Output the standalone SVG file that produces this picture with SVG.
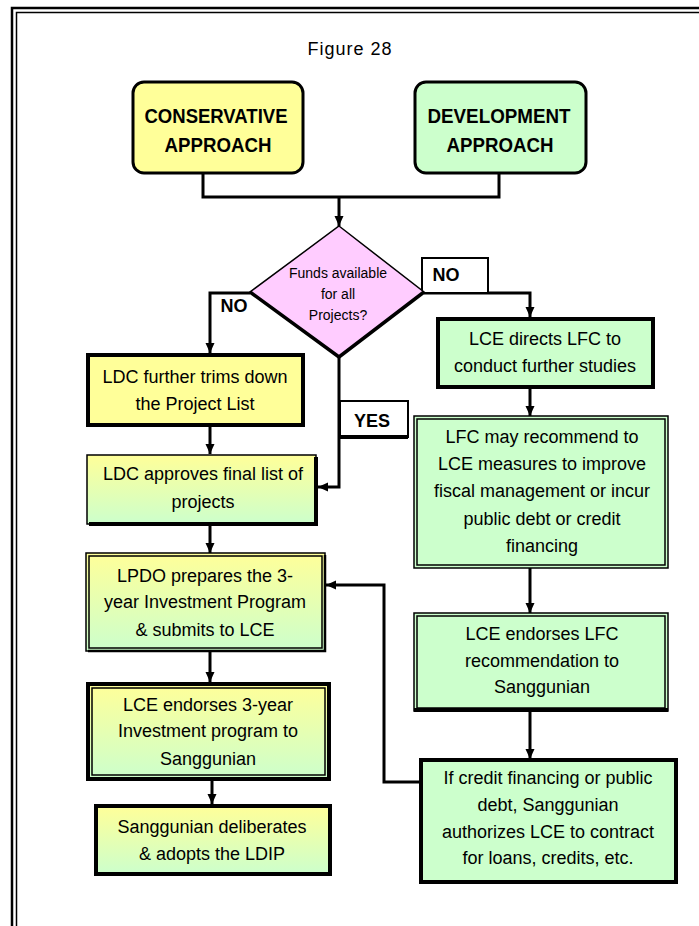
<svg xmlns="http://www.w3.org/2000/svg" width="699" height="926" viewBox="0 0 699 926">
  <style>
    .t { font-family: "Liberation Sans", Arial, sans-serif; font-size: 18px; fill: #000; text-anchor: middle; }
    .b { font-weight: bold; }
    .hd { font-size: 20px; }
    .sm { font-size: 14px; }
    .wire { fill: none; stroke: #000; stroke-width: 3; }
    .thick { stroke: #000; stroke-width: 4; }
    .thin { fill: none; stroke: #000; stroke-width: 1.5; }
  </style>
  <defs>
    <linearGradient id="yg" x1="0" y1="0" x2="0" y2="1">
      <stop offset="0" stop-color="#FFFF99"/>
      <stop offset="1" stop-color="#CCFFCC"/>
    </linearGradient>
    <marker id="arr" markerUnits="userSpaceOnUse" markerWidth="12" markerHeight="12" viewBox="0 0 12 12" refX="11" refY="6" orient="auto">
      <path d="M1,1.5 L11,6 L1,10.5 Z" fill="#000"/>
    </marker>
  </defs>

  <rect width="699" height="926" fill="#fff"/>

  <!-- page frame: double rule on top and left -->
  <g id="frame" fill="none" stroke="#000">
    <path d="M12,926 V8 H699" stroke-width="2.5"/>
    <path d="M16.5,926 V12.5 H699" stroke-width="1.5"/>
  </g>

  <text class="t" x="350" y="55" font-size="20" letter-spacing="1">Figure 28</text>

  <!-- connectors -->
  <g id="connectors">
    <path class="wire" d="M203,173 V197 H499 V173"/>
    <path class="wire" d="M339,197 V226" marker-end="url(#arr)"/>
    <path class="wire" d="M250,293 H210 V353" marker-end="url(#arr)"/>
    <path class="wire" d="M424,293 H530 V317" marker-end="url(#arr)"/>
    <path class="wire" d="M339,356 V487 H318" marker-end="url(#arr)"/>
    <path class="wire" d="M210,426 V454" marker-end="url(#arr)"/>
    <path class="wire" d="M210,525 V553" marker-end="url(#arr)"/>
    <path class="wire" d="M210,651 V682" marker-end="url(#arr)"/>
    <path class="wire" d="M212,780 V804" marker-end="url(#arr)"/>
    <path class="wire" d="M530,388 V416" marker-end="url(#arr)"/>
    <path class="wire" d="M530,568 V613" marker-end="url(#arr)"/>
    <path class="wire" d="M530,712 V759" marker-end="url(#arr)"/>
    <path class="wire" d="M419,782 H384 V585 H326" marker-end="url(#arr)"/>
  </g>

  <!-- branch labels -->
  <g id="label-no-left">
    <text class="t b" x="234" y="312">NO</text>
  </g>
  <g id="label-no-right">
    <rect x="422" y="258" width="66" height="35" fill="#fff" stroke="#000" stroke-width="2"/>
    <text class="t b" x="446" y="281">NO</text>
  </g>
  <g id="label-yes">
    <rect x="340" y="401" width="68" height="36" fill="#fff" stroke="#000" stroke-width="2"/>
    <line x1="340" y1="437" x2="408" y2="437" stroke="#000" stroke-width="4"/>
    <text class="t b" x="372" y="427">YES</text>
  </g>

  <!-- start boxes -->
  <g id="conservative">
    <rect x="133" y="82" width="170" height="91" rx="11" fill="#FFFF99" stroke="#000" stroke-width="3"/>
    <text class="t b hd" x="216" y="123" textLength="143" lengthAdjust="spacingAndGlyphs">CONSERVATIVE</text>
    <text class="t b hd" x="218" y="152" textLength="107" lengthAdjust="spacingAndGlyphs">APPROACH</text>
  </g>
  <g id="development">
    <rect x="415" y="82" width="171" height="91" rx="11" fill="#CCFFCC" stroke="#000" stroke-width="3"/>
    <text class="t b hd" x="499" y="123" textLength="143" lengthAdjust="spacingAndGlyphs">DEVELOPMENT</text>
    <text class="t b hd" x="500" y="152" textLength="107" lengthAdjust="spacingAndGlyphs">APPROACH</text>
  </g>

  <!-- decision -->
  <g id="decision">
    <polygon points="339,226 424,292 339,357 250,292" fill="#FFCCFF" stroke="#000" stroke-width="1.5"/>
    <polyline points="250,292 339,357 424,292" fill="none" stroke="#000" stroke-width="3.5"/>
    <text class="t sm" x="338" y="278">Funds available</text>
    <text class="t sm" x="338" y="299">for all</text>
    <text class="t sm" x="338" y="320">Projects?</text>
  </g>

  <!-- left column -->
  <g id="ldc-trims">
    <rect x="88" y="355" width="215" height="70" fill="#FFFF99" class="thick"/>
    <text class="t" x="195" y="383">LDC further trims down</text>
    <text class="t" x="195" y="410">the Project List</text>
  </g>
  <g id="ldc-approves">
    <rect x="87" y="455" width="229" height="69" fill="url(#yg)" stroke="#000" stroke-width="1.5"/>
    <path d="M89,524 H316 V457" fill="none" stroke="#000" stroke-width="4"/>
    <text class="t" x="203" y="480">LDC approves final list of</text>
    <text class="t" x="203" y="508">projects</text>
  </g>
  <g id="lpdo">
    <rect x="86" y="553" width="239" height="98" fill="url(#yg)" stroke="#000" stroke-width="1.5"/>
    <rect x="89" y="556" width="233" height="92" class="thin"/>
    <path d="M88,651 H325 V555" fill="none" stroke="#000" stroke-width="2.5"/>
    <text class="t" x="205" y="582">LPDO prepares the 3-</text>
    <text class="t" x="205" y="608">year Investment Program</text>
    <text class="t" x="205" y="636">&amp; submits to LCE</text>
  </g>
  <g id="lce-endorses-program">
    <rect x="88" y="684" width="241" height="95" fill="url(#yg)" class="thick"/>
    <rect x="92" y="688" width="233" height="87" class="thin" stroke-width="1"/>
    <text class="t" x="208" y="711">LCE endorses 3-year</text>
    <text class="t" x="208" y="737">Investment program to</text>
    <text class="t" x="208" y="765">Sanggunian</text>
  </g>
  <g id="sanggunian-adopts">
    <rect x="96" y="806" width="234" height="68" fill="url(#yg)" class="thick"/>
    <text class="t" x="212" y="833">Sanggunian deliberates</text>
    <text class="t" x="212" y="860">&amp; adopts the LDIP</text>
  </g>

  <!-- right column -->
  <g id="lce-directs">
    <rect x="438" y="319" width="215" height="68" fill="#CCFFCC" class="thick"/>
    <text class="t" x="545" y="345">LCE directs LFC to</text>
    <text class="t" x="545" y="372">conduct further studies</text>
  </g>
  <g id="lfc-recommends">
    <rect x="414" y="416" width="254" height="152" fill="#CCFFCC" stroke="#000" stroke-width="1.5"/>
    <rect x="417" y="419" width="248" height="146" class="thin" stroke-width="1"/>
    <text class="t" x="542" y="443">LFC may recommend to</text>
    <text class="t" x="542" y="470">LCE measures to improve</text>
    <text class="t" x="542" y="497">fiscal management or incur</text>
    <text class="t" x="542" y="525">public debt or credit</text>
    <text class="t" x="542" y="552">financing</text>
  </g>
  <g id="lce-endorses-lfc">
    <rect x="414" y="613" width="254" height="98" fill="#CCFFCC" stroke="#000" stroke-width="1.5"/>
    <rect x="417" y="616" width="248" height="92" class="thin" stroke-width="1"/>
    <line x1="414" y1="710" x2="668" y2="710" stroke="#000" stroke-width="4"/>
    <text class="t" x="542" y="640">LCE endorses LFC</text>
    <text class="t" x="542" y="667">recommendation to</text>
    <text class="t" x="542" y="693">Sanggunian</text>
  </g>
  <g id="credit-authorization">
    <rect x="421" y="760" width="255" height="122" fill="#CCFFCC" class="thick"/>
    <text class="t" x="548" y="784">If credit financing or public</text>
    <text class="t" x="548" y="811">debt, Sanggunian</text>
    <text class="t" x="548" y="838">authorizes LCE to contract</text>
    <text class="t" x="548" y="864">for loans, credits, etc.</text>
  </g>
</svg>
